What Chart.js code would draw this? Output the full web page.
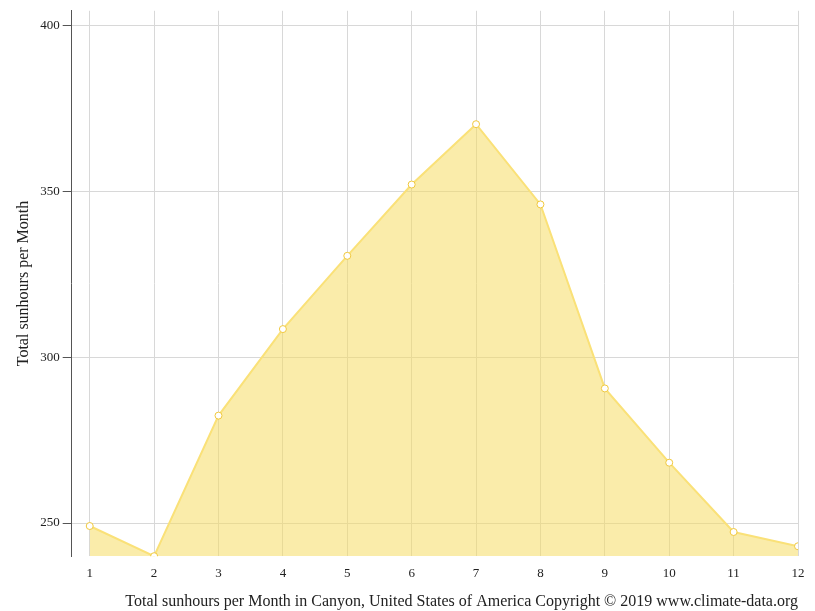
<!DOCTYPE html>
<html><head><meta charset="utf-8">
<script src="https://cdn.jsdelivr.net/npm/chart.js@4"></script>
<style>html,body{margin:0;background:#fff}#w{width:815px;height:611px}</style>
</head><body><div id="w"><canvas id="c"></canvas></div>
<script>
const months = [1,2,3,4,5,6,7,8,9,10,11,12];
const sunhours = [249.1,240,282.4,308.5,330.6,352.1,370.3,346.1,290.6,268.2,247.3,243.0];
const yTicks = [250,300,350,400];
const font = {family:'"Liberation Serif", serif', size:13};
new Chart(document.getElementById('c'), {
  type:'line',
  data:{datasets:[{
    data: months.map((m,i)=>({x:m,y:sunhours[i]})),
    borderColor:'rgba(250,225,120,1)', backgroundColor:'rgba(245,220,100,0.55)',
    fill:'start', tension:0, borderWidth:2,
    pointRadius:3.5, pointBackgroundColor:'#fff', pointBorderColor:'rgba(240,200,60,1)', pointBorderWidth:1
  }]},
  options:{
    responsive:true, maintainAspectRatio:false, animation:false,
    layout:{padding:{top:10,right:17,left:10,bottom:0}},
    plugins:{legend:{display:false},tooltip:{enabled:false}},
    scales:{
      x:{type:'linear',min:0.72,max:12,
        afterBuildTicks:s=>{s.ticks=months.map(v=>({value:v}));},
        grid:{color:'#d8d8d8',drawTicks:false},border:{display:false},
        ticks:{font,color:'#222',padding:10,callback:v=>String(v)},
        title:{display:true,text:'Total sunhours per Month in Canyon, United States of America Copyright © 2019 www.climate-data.org',font:{family:font.family,size:16},color:'#222',align:'end',padding:{top:0,bottom:0}}},
      y:{min:240,max:404.5,
        afterBuildTicks:s=>{s.ticks=yTicks.map(v=>({value:v}));},
        grid:{color:'#d8d8d8',tickColor:'#555',tickLength:9},border:{color:'#555'},
        ticks:{font,color:'#222',padding:3},
        title:{display:true,text:'Total sunhours per Month',font:{family:font.family,size:16},color:'#222'}}
    }
  }
});
</script></body></html>
